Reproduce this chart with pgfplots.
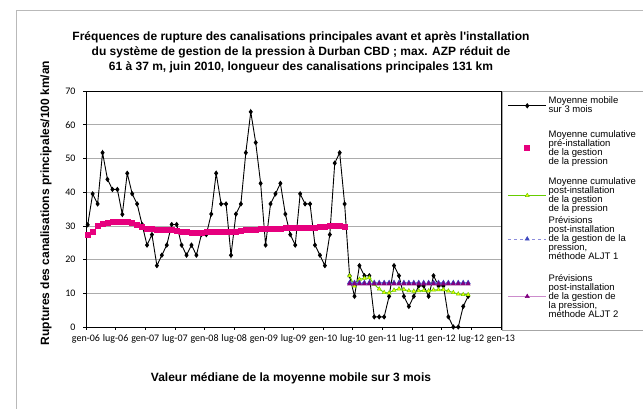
\documentclass[border=0pt]{standalone}
\usepackage{fontspec}
\setmainfont{Liberation Sans}
\newfontfamily\carlito{Carlito}
\usepackage{pgfplots}
\pgfplotsset{compat=1.18}
\definecolor{pinkc}{RGB}{230,0,126}
\definecolor{greenc}{RGB}{102,204,0}
\definecolor{yellowc}{RGB}{255,255,0}
\definecolor{bluel}{RGB}{140,140,220}
\definecolor{bluem}{RGB}{60,70,190}
\definecolor{purl}{RGB}{204,140,204}
\definecolor{purm}{RGB}{128,0,128}
\pgfplotsset{myleg/.style={legend image code/.code={\draw[mark repeat=2,mark phase=2,##1] plot coordinates {(0pt,0pt) (19pt,0pt) (38pt,0pt)};}}}
\begin{document}
\begin{tikzpicture}[x=1pt,y=1pt]
\useasboundingbox (0,0) rectangle (643,409);
\draw[gray!55, line width=0.8pt] (16,-5) rectangle (670,399);
\node[font=\bfseries\fontsize{12}{15}\selectfont, align=center] at (301,357) {Fréquences de rupture des canalisations principales avant et après l\textquotesingle installation\\du système de gestion de la pression à Durban CBD ; max. AZP réduit de\\61 à 37 m, juin 2010, longueur des canalisations principales 131 km};
\node[rotate=90, font=\bfseries\fontsize{12}{14}\selectfont] at (46,206) {Ruptures des canalisations principales/100 km/an};
\node[font=\bfseries\fontsize{12}{14}\selectfont] at (291,31) {Valeur médiane de la moyenne mobile sur 3 mois};
\begin{axis}[at={(86pt,82pt)}, anchor=south west, scale only axis, width=415pt, height=236pt,
  xmin=0, xmax=84, ymin=0, ymax=70,
  xtick={0,6,...,84},
  xticklabels={gen-06,lug-06,gen-07,lug-07,gen-08,lug-08,gen-09,lug-09,gen-10,lug-10,gen-11,lug-11,gen-12,lug-12,gen-13},
  ytick={0,10,...,70},
  ymajorgrids, grid style={gray!65, line width=0.7pt},
  tick align=outside, tick pos=left, major tick length=3pt,
  axis line style={black, line width=0.8pt},
  tick style={black, line width=0.6pt},
  /pgf/number format/assume math mode=true,
  ticklabel style={font=\carlito\fontsize{10}{12}\selectfont},
  xticklabel style={inner sep=1pt, yshift=-3.5pt},
  yticklabel style={xshift=-4pt},
  legend cell align=left,
  legend style={at={(1,1)}, anchor=north west, xshift=1.5pt, draw=gray!70, line width=0.6pt,
    font=\fontsize{9.5}{9}\selectfont, nodes={align=left}, row sep=0pt, inner ysep=0.5pt, inner xsep=5pt},
]
\addplot[black, line width=0.9pt, mark=diamond*, mark size=2pt, myleg] table {
x y
0.35 30.3
1.35 39.5
2.35 36.5
3.35 51.7
4.35 43.8
5.35 40.8
6.35 40.8
7.35 33.4
8.35 45.6
9.35 39.5
10.35 36.5
11.35 30.4
12.35 24.3
13.35 27.4
14.35 18.2
15.35 21.3
16.35 24.3
17.35 30.4
18.35 30.4
19.35 24.3
20.35 21.3
21.35 24.3
22.35 21.3
23.35 27.4
24.35 27.4
25.35 33.5
26.35 45.6
27.35 36.5
28.35 36.5
29.35 21.3
30.35 33.5
31.35 36.5
32.35 51.7
33.35 63.8
34.35 54.7
35.35 42.6
36.35 24.3
37.35 36.5
38.35 39.5
39.35 42.6
40.35 33.5
41.35 27.4
42.35 24.3
43.35 39.5
44.35 36.5
45.35 36.5
46.35 24.3
47.35 21.3
48.35 18.2
49.35 27.4
50.35 48.6
51.35 51.7
52.35 36.5
53.35 15.2
54.35 9.1
55.35 18.2
56.35 15.2
57.35 15.2
58.35 3.0
59.35 3.0
60.35 3.0
61.35 9.1
62.35 18.2
63.35 15.2
64.35 9.1
65.35 6.1
66.35 9.1
67.35 12.2
68.35 12.2
69.35 9.1
70.35 15.2
71.35 12.2
72.35 12.2
73.35 3.0
74.35 0
75.35 0
76.35 6.1
77.35 9.1
};
\addlegendentry[inner ysep=5.3pt]{Moyenne mobile\hspace*{30pt}\\sur 3 mois}
\addplot[only marks, mark=square*, mark size=2.5pt, color=pinkc, myleg] table {
x y
0.35 27.3
1.35 28.3
2.35 30.1
3.35 30.6
4.35 30.9
5.35 31.1
6.35 31.2
7.35 31.2
8.35 31.1
9.35 30.8
10.35 30.3
11.35 29.8
12.35 29.3
13.35 29.1
14.35 28.9
15.35 28.9
16.35 29.0
17.35 28.9
18.35 28.7
19.35 28.4
20.35 28.2
21.35 28.0
22.35 27.9
23.35 28.0
24.35 28.2
25.35 28.3
26.35 28.4
27.35 28.4
28.35 28.3
29.35 28.2
30.35 28.4
31.35 28.7
32.35 28.9
33.35 29.0
34.35 29.0
35.35 29.1
36.35 29.1
37.35 29.2
38.35 29.3
39.35 29.3
40.35 29.4
41.35 29.4
42.35 29.5
43.35 29.5
44.35 29.6
45.35 29.6
46.35 29.6
47.35 29.7
48.35 29.8
49.35 30.0
50.35 30.1
51.35 30.0
52.35 29.8
};
\addlegendentry[inner ysep=10.6pt]{Moyenne cumulative\\pré-installation\\de la gestion\\de la pression}
\addplot[greenc, line width=0.9pt, mark=triangle*, mark size=2.3pt, mark options={fill=yellowc, draw=greenc, line width=0.5pt}, myleg] table {
x y
53.35 15.2
54.35 12.15
55.35 14.17
56.35 14.43
57.35 14.58
58.35 12.65
59.35 11.27
60.35 10.24
61.35 10.11
62.35 10.92
63.35 11.31
64.35 11.13
65.35 10.74
66.35 10.62
67.35 10.73
68.35 10.82
69.35 10.72
70.35 10.97
71.35 11.03
72.35 11.09
73.35 10.70
74.35 10.22
75.35 9.78
76.35 9.62
77.35 9.60
};
\addlegendentry[inner ysep=1.5pt]{Moyenne cumulative\\post-installation\\de la gestion\\de la pression}
\addplot[bluel, dashed, line width=0.6pt, mark=triangle*, mark size=2.3pt, mark options={solid, fill=bluem, draw=bluem}, myleg] table {
x y
53.35 13.2
54.35 13.2
55.35 13.2
56.35 13.2
57.35 13.2
58.35 13.2
59.35 13.2
60.35 13.2
61.35 13.2
62.35 13.2
63.35 13.2
64.35 13.2
65.35 13.2
66.35 13.2
67.35 13.2
68.35 13.2
69.35 13.2
70.35 13.2
71.35 13.2
72.35 13.2
73.35 13.2
74.35 13.2
75.35 13.2
76.35 13.2
77.35 13.2
};
\addlegendentry[inner ysep=2pt]{Prévisions\\post-installation\\de la gestion de la\\pression,\\méthode ALJT 1}
\addplot[purl, line width=0.6pt, mark=triangle*, mark size=2.3pt, mark options={fill=purm, draw=purm}, myleg] table {
x y
53.35 12.8
54.35 12.8
55.35 12.8
56.35 12.8
57.35 12.8
58.35 12.8
59.35 12.8
60.35 12.8
61.35 12.8
62.35 12.8
63.35 12.8
64.35 12.8
65.35 12.8
66.35 12.8
67.35 12.8
68.35 12.8
69.35 12.8
70.35 12.8
71.35 12.8
72.35 12.8
73.35 12.8
74.35 12.8
75.35 12.8
76.35 12.8
77.35 12.8
};
\addlegendentry[inner ysep=11pt]{Prévisions\\post-installation\\de la gestion de\\la pression,\\méthode ALJT 2}
\end{axis}
\end{tikzpicture}
\end{document}
